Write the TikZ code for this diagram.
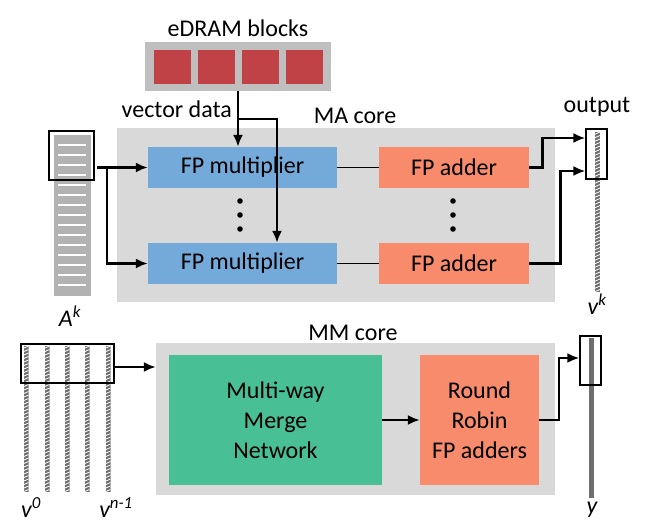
\documentclass[tikz,border=0pt]{standalone}
\usepackage{fontspec}
\setmainfont{Carlito}
\usetikzlibrary{arrows.meta,calc}
\definecolor{edgray}{RGB}{191,191,191}
\definecolor{edred}{RGB}{192,66,71}
\definecolor{coregray}{RGB}{217,217,217}
\definecolor{mulblue}{RGB}{116,170,217}
\definecolor{addsalmon}{RGB}{248,139,107}
\definecolor{mergegreen}{RGB}{73,191,150}
\definecolor{matgray}{RGB}{178,178,178}
\definecolor{bardark}{RGB}{110,110,110}
\newcommand\stripebar[3]{%
  \begin{scope}
    \clip (#1-2.5,#2) rectangle (#1+2.5,#3);
    \fill[bardark] (#1-2.5,#2) rectangle (#1+2.5,#3);
    \foreach \k in {0,...,47} {\draw[white,line width=0.8pt] (#1-2.5,#2+\k*3.5+2.2) -- (#1+2.5,#2+\k*3.5);}
  \end{scope}}
\begin{document}
\begin{tikzpicture}[x=1pt,y=-1pt,
  txt/.style={font=\fontsize{24}{29}\selectfont, inner sep=0pt},
  itl/.style={font=\fontsize{24}{29}\selectfont\itshape, inner sep=0pt},
  box/.style={draw=none, inner sep=0pt, font=\fontsize{24}{30}\selectfont, align=center},
  frm/.style={draw=black, line width=1.3pt, fill=none, inner sep=0pt},
  arr/.style={line width=2.2pt, -{Latex[length=12pt,width=10pt]}},
  thickarr/.style={line width=2.6pt, -{Latex[length=12pt,width=10pt]}},
  plain/.style={line width=1.8pt}]
\useasboundingbox (0,0) rectangle (654,526);
% eDRAM
\node[txt] (edlabel) at (238,28) {eDRAM blocks};
\node[box, fill=edgray, minimum width=186pt, minimum height=49pt] (edram) at (238,66.5) {};
\foreach \i/\xx in {1/172.5,2/216.5,3/260.5,4/304.5}
  \node[box, fill=edred, minimum width=37pt, minimum height=34pt] (blk\i) at (\xx,67) {};
% MA core
\node[box, fill=coregray, minimum width=438pt, minimum height=174pt] (macore) at (336,215) {};
\node[txt] (malabel) at (355,116) {MA core};
\node[txt, anchor=east] (vdlabel) at (232,109) {vector data};
\node[box, fill=mulblue, minimum width=189pt, minimum height=41pt] (mul1) at (242.5,167.5) {FP multiplier};
\node[box, fill=mulblue, minimum width=189pt, minimum height=41pt] (mul2) at (242.5,263.5) {FP multiplier};
\node[box, fill=addsalmon, minimum width=150pt, minimum height=41pt] (add1) at (454,167.5) {FP adder};
\node[box, fill=addsalmon, minimum width=150pt, minimum height=41pt] (add2) at (454,263.5) {FP adder};
\foreach \yy in {201,215,229} {
  \fill (240,\yy) circle (2.8pt);
  \fill (453,\yy) circle (2.8pt);
}
\draw[plain] (mul1.east) -- (add1.west);
\draw[plain] (mul2.east) -- (add2.west);
% vector data arrows
\draw[arr] (edram.south) -- (edram.south |- mul1.north);
\draw[arr] ([yshift=-28pt]edram.south) -| ([xshift=34.5pt]mul2.north);
% A^k matrix
\node[box, fill=matgray, minimum width=37pt, minimum height=161pt] (amat) at (72.5,215.5) {};
\foreach \yy in {145,155,...,285} \draw[white, line width=1.5pt] (58,\yy) -- (86,\yy);
\node[frm, minimum width=45pt, minimum height=49pt] (aframe) at (71.5,155.5) {};
\node[itl] (alabel) at (70,316) {A\textsuperscript{k}};
\coordinate (astart) at (97,167.5);
\coordinate (abranch) at (107,167.5);
\draw[arr] (astart) -- (mul1.west);
\draw[arr] (abranch) |- (mul2.west);
% output vector
\stripebar{597.5}{132}{292}
\node[frm, minimum width=21pt, minimum height=50pt] (oframe) at (596.5,154) {};
\node[txt] (olabel) at (597,107) {output};
\node[itl] (vklabel) at (597,304) {v\textsuperscript{k}};
\draw[thickarr] (add1.east) -- ++(13pt,0) |- ([yshift=16pt]oframe.west);
\draw[thickarr] (add2.east) -- ++(31pt,0) |- ([yshift=-17pt]oframe.west);
% MM core
\node[box, fill=coregray, minimum width=399pt, minimum height=152pt] (mmcore) at (355.5,419) {};
\node[txt] (mmlabel) at (353,333) {MM core};
\node[box, fill=mergegreen, minimum width=213pt, minimum height=130pt] (merge) at (275.5,420) {Multi-way\\Merge\\Network};
\node[box, fill=addsalmon, minimum width=119pt, minimum height=130pt] (rr) at (479.5,420) {Round\\Robin\\FP adders};
\draw[arr] (merge.east) -- (rr.west);
% input vectors
\foreach \xx in {26,47,67,87,108} {\stripebar{\xx}{346}{492}}
\node[frm, minimum width=93pt, minimum height=39pt] (vframe) at (67.5,363.5) {};
\node[itl] (v0label) at (31,508) {v\textsuperscript{0}};
\node[itl] (vnlabel) at (116,508) {v\textsuperscript{n-1}};
\draw[arr] ([yshift=-3.5pt]vframe.east) -- ([yshift=-3.5pt]vframe.east -| mmcore.west);
% y vector
\fill[bardark] (589,338) rectangle (594,498);
\node[frm, minimum width=21pt, minimum height=49pt] (yframe) at (590.5,360.5) {};
\node[itl] (ylabel) at (592,510) {y};
\draw[arr] (rr.east) -- ++(20pt,0) |- ([yshift=2.5pt]yframe.west);
\end{tikzpicture}
\end{document}
